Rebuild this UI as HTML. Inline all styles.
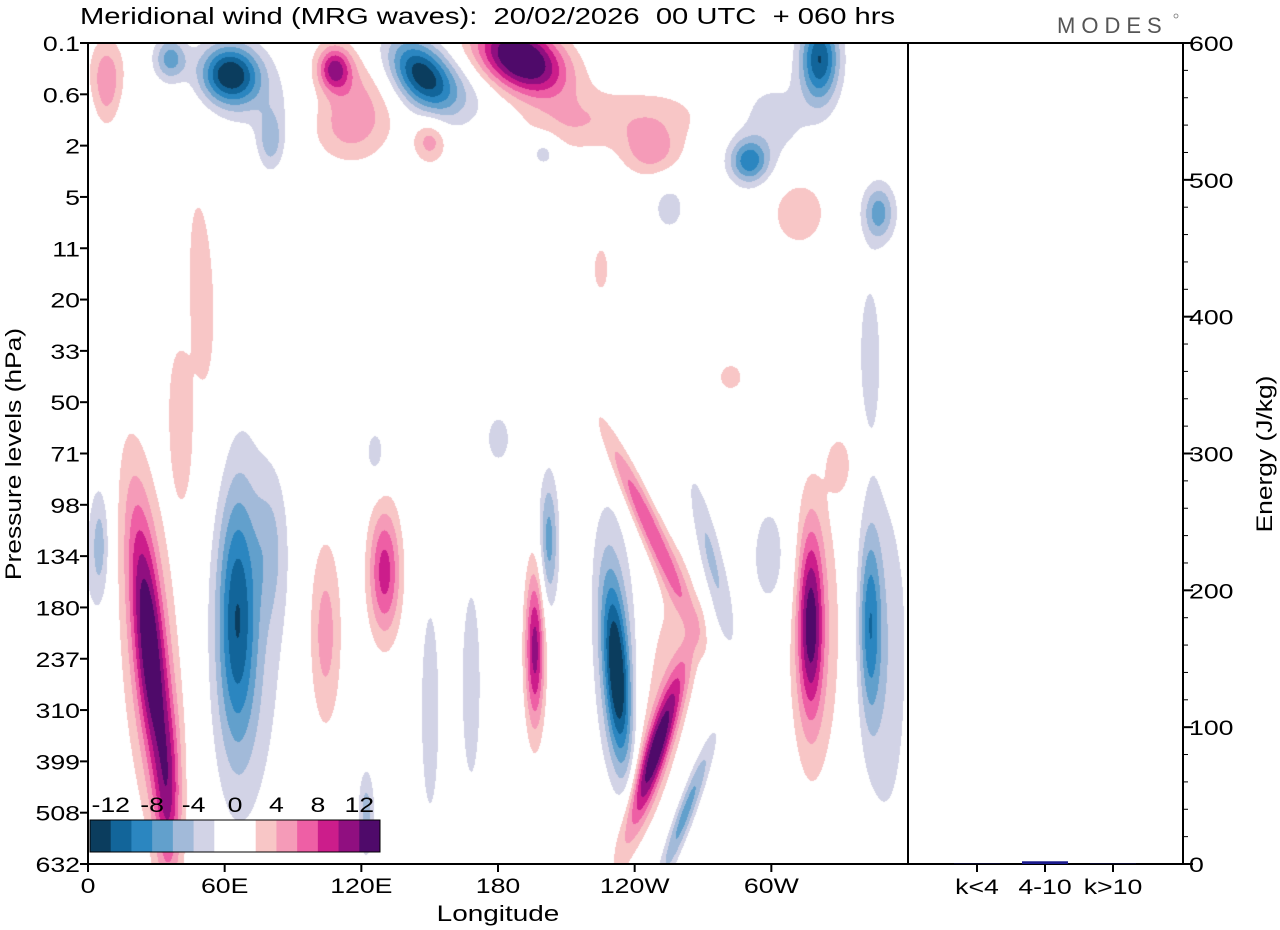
<!DOCTYPE html>
<html><head><meta charset="utf-8">
<style>
body{margin:0;background:#fff;width:1280px;height:930px;overflow:hidden;font-family:"Liberation Sans",Arial,sans-serif;}
#wrap{position:relative;width:1280px;height:930px;}
#field{position:absolute;left:88px;top:43px;}
svg{position:absolute;left:0;top:0;}
text{white-space:pre;}
</style></head>
<body>
<div id="wrap">
<canvas id="field" width="820" height="821"></canvas>
<svg id="svg" width="1280" height="930"></svg>
</div>
<script>
// ---- data ----
const levelLabels = ["0.1","0.6","2","5","11","20","33","50","71","98","134","180","237","310","399","508","632"];
const lonTicks = [0,60,120,180,240,300];
const lonTickLabels = ["0","60E","120E","180","120W","60W"];
const energyTicks = [0,100,200,300,400,500,600];
const barCats = ["k<4","4-10","k>10"];
const barVals = [0.2,2.0,0.2];
const cbLevels = [-14,-12,-10,-8,-6,-4,-2,0,2,4,6,8,10,12,14];
const cbColors = ["#0b3d5e","#12659a","#2b86c0","#62a0cc","#a2bad9","#d2d3e6","#ffffff","#ffffff","#f8c6c6","#f59bb8","#ee5fa5","#cc1d8b","#900f80","#4f0a6a"];
const cbLabels = [-12,-8,-4,0,4,8,12];
// wave blobs: longitude (deg E), level index, lon spread, level spread, amplitude (m/s), tilt (deg per level)
const blobLon  = [27,27,5,65,70,104,130,168,122,196,202,232,245,249,262,273,317,343,320,350,232,249, 62,36,108,146,190,321,80,115,150,247,290,200,50,347,312,255,225,282,180,330,126,8,40,
                  8,70,115,245,160,300,210,300,150,343,35,80];
const blobLev  = [11.8,12,9.8,11.2,11.5,11.5,10.3,12.5,15,11.8,9.7,12.3,9.3,13.8,15,10,11.3,11.3,11.5,12,12,13, 0.6,0.3,0.5,0.6,0.3,0.3,1.9,1.6,1.9,2.1,2.3,2.1,5,3.3,3.3,3.2,4.4,6.5,7.7,8.2,8,1,7.5,
                  0.5,0.9,0.7,1.4,0.9,1.5,1.6,10,13,6,14.8,9.8];
const blobSLon = [5,11,3,6,12,5,5,3.5,2.5,3,3,4,4,4,3,4,4,3.5,10,8,8,9, 9,5,5,9,13,6,4,12,5,9,6,5,7,5,9,6,3,5,5,4,4,4,4,
                  6,14,10,20,12,12,15,8,4,4,4,5];
const blobSLev = [2.0,2.6,0.8,1.8,2.6,1.3,0.9,1.6,0.6,1.1,0.9,1.3,1.3,1.2,1.0,1.2,1.3,1.3,2.3,2.6,2.3,2.3, 0.4,0.3,0.3,0.5,0.5,0.6,0.4,0.5,0.3,0.35,0.3,0.25,2.5,0.4,0.5,0.4,0.4,0.25,0.45,0.4,0.45,0.5,1.2,
                  0.5,0.6,0.5,0.4,0.5,0.6,0.4,1,2,1.2,1.2,1];
const blobAmp  = [12,3,-5,-9,-3.5,5,9,-3.5,-5,11,-7,-12,8,12,-7,-5,11,-8,3,-3.5,-3.5,3, -12,-7,9,-12,16,-12,-5,5,5,5,-9,-3.5,2.6,-7,3.5,-2.8,3,2.8,-2.8,2.8,-2.8,3,3,
                  3.5,-3,3,3,-3,-3,3,-3,-3,-3,6,-3];
const blobTilt = [2,1,0,0,0,0,0,0,0,0,0,1.5,10,-7,-8,5,0,0,0,0,1,-4, 0,0,0,8,10,0,0,0,0,0,0,0,1,0,0,0,0,0,0,0,0,0,1,
                  0,10,8,0,8,0,0,0,0,0,0,0];

// ---- axes ----
const X0=88,X1=908,Y0=43,Y1=864;
const xLon = l => X0 + l*(X1-X0)/360;
const yLev = i => Y0 + i*(Y1-Y0)/16;
const PX0=908,PX1=1183;
const yE = e => Y1 - e*(Y1-Y0)/600;
const xCat = i => 977 + i*68;

// ---- field ----
const cv=document.getElementById('field'),ctx=cv.getContext('2d');
const W=820,H=821,img=ctx.createImageData(W,H);
const rgb=cbColors.map(c=>[parseInt(c.substr(1,2),16),parseInt(c.substr(3,2),16),parseInt(c.substr(5,2),16)]);
const bx=blobLon.map(xLon), by=blobLev.map(yLev);
const pxDeg=(X1-X0)/360, pyLev=(Y1-Y0)/16;
for(let py=0;py<H;py++){
  for(let px=0;px<W;px++){
    const X=px+X0, Y=py+Y0;
    let v=0;
    for(let k=0;k<blobLon.length;k++){
      const dy=(Y-by[k])/(blobSLev[k]*pyLev);
      if(dy>4||dy<-4) continue;
      const cx=bx[k]+blobTilt[k]*pxDeg*(Y-by[k])/pyLev;
      let dx=(X-cx)/(blobSLon[k]*pxDeg);
      for(const s of [-W,W]){ const d2=(X-cx-s)/(blobSLon[k]*pxDeg); if(Math.abs(d2)<Math.abs(dx)) dx=d2; }
      if(dx>4||dx<-4) continue;
      v+=blobAmp[k]*Math.exp(-0.5*(dx*dx+dy*dy));
    }
    let b=Math.floor((v+14)/2); if(b<0)b=0; if(b>13)b=13;
    const c=rgb[b], o=(py*W+px)*4;
    img.data[o]=c[0];img.data[o+1]=c[1];img.data[o+2]=c[2];img.data[o+3]=255;
  }
}
ctx.putImageData(img,0,0);

// ---- svg ----
const svg=document.getElementById('svg'),NS='http://www.w3.org/2000/svg';
const SX=1.27;
function mk(t,a,txt){const e=document.createElementNS(NS,t);for(const k in a)e.setAttribute(k,a[k]);if(txt!==undefined)e.textContent=txt;svg.appendChild(e);return e;}
function tx(x,y,size,anchor,str,extra){
  const a={x:0,y:0,'font-size':size,'text-anchor':anchor,transform:'translate('+x+' '+y+') scale('+SX+' 1)'};
  if(extra) for(const k in extra) a[k]=extra[k];
  return mk('text',a,str);
}
let e;
e=tx(80,24,23,'start','Meridional wind (MRG waves):  20/02/2026  00 UTC  + 060 hrs');


e=mk('text',{x:1057,y:33,'font-size':22,fill:'#555','letter-spacing':'6'},'MODES');


mk('circle',{cx:1176,cy:16,r:2,fill:'none',stroke:'#777','stroke-width':0.8});
// frames
e=mk('rect',{x:X0,y:Y0,width:X1-X0,height:Y1-Y0,fill:'none',stroke:'#000','stroke-width':2});


e=mk('rect',{x:PX0,y:Y0,width:PX1-PX0,height:Y1-Y0,fill:'none',stroke:'#000','stroke-width':2});


// y levels
levelLabels.forEach((l,i)=>{
  mk('line',{x1:X0-8,x2:X0,y1:yLev(i),y2:yLev(i),stroke:'#000','stroke-width':2});
  e=tx(X0-8,yLev(i)+8,21,'end',l);
  
  
});
e=mk('text',{x:0,y:0,'font-size':22,'text-anchor':'middle',transform:'translate(21 454) rotate(-90) scale(1.2 1)'},'Pressure levels (hPa)');


// x ticks
lonTicks.forEach((l,i)=>{
  mk('line',{x1:xLon(l),x2:xLon(l),y1:Y1,y2:Y1+8,stroke:'#000','stroke-width':2});
  e=tx(xLon(l),Y1+29,21,'middle',lonTickLabels[i]);
  
  
});
e=tx(498,921,22,'middle','Longitude');


// energy axis
for(let m=0;m<=600;m+=20){
  const big=m%100===0;
  mk('line',{x1:PX1,x2:PX1+(big?10:5),y1:yE(m),y2:yE(m),stroke:'#000','stroke-width':big?2:1});
}
energyTicks.forEach(t=>{
  e=tx(PX1+6,yE(t)+8,21,'start',String(t));
  
  
});
e=mk('text',{x:0,y:0,'font-size':22,'text-anchor':'middle',transform:'translate(1272 454) rotate(-90) scale(1.2 1)'},'Energy (J/kg)');


// bars
barCats.forEach((c,i)=>{
  const h=Math.max(0,Y1-yE(barVals[i]));
  e=mk('rect',{x:xCat(i)-23,y:Y1-h,width:46,height:h,fill:'#1a1a8c'});
  
  
  mk('line',{x1:xCat(i),x2:xCat(i),y1:Y1,y2:Y1+8,stroke:'#000','stroke-width':2});
  e=tx(xCat(i),Y1+30,21,'middle',c);
  
  
});
// colorbar
const cbX=90,cbY=820,cbW=290,cbH=32,bw=cbW/cbColors.length;
cbColors.forEach((c,i)=>{
  e=mk('rect',{x:cbX+i*bw,y:cbY,width:bw+0.5,height:cbH,fill:c});
  
  
});
mk('rect',{x:cbX,y:cbY,width:cbW,height:cbH,fill:'none',stroke:'#000','stroke-width':1});
cbLabels.forEach(v=>{
  const x=cbX+(v-cbLevels[0])/(cbLevels[cbLevels.length-1]-cbLevels[0])*cbW;
  e=tx(x,cbY-8,21,'middle',String(v));
  
  
});
</script>
</body></html>
